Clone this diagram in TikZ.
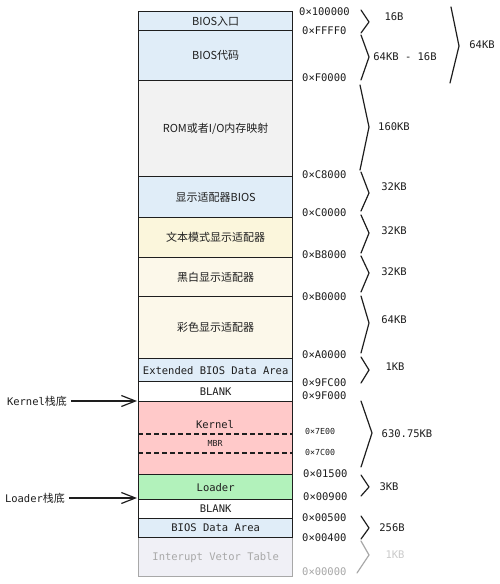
\documentclass[tikz,border=0pt]{standalone}
\usepackage{fontspec}
\setmonofont{DejaVu Sans Mono}
\newfontfamily\cjk{Noto Sans CJK SC}
\usetikzlibrary{arrows.meta}
\definecolor{ink}{HTML}{1E1E1E}
\definecolor{blueF}{HTML}{E0EDF8}
\definecolor{greyF}{HTML}{F2F2F2}
\definecolor{yelF}{HTML}{FBF6DC}
\definecolor{creamF}{HTML}{FCF8EA}
\definecolor{pinkF}{HTML}{FFC9C9}
\definecolor{greenF}{HTML}{B2F2BB}
\definecolor{ivtF}{HTML}{F0F0F6}
\definecolor{fadeT}{HTML}{A8A8A8}
\newcommand\monofnt{\fontsize{10.5bp}{12bp}\selectfont\ttfamily}
\newcommand\smallmono{\fontsize{8.3bp}{10bp}\selectfont\ttfamily}
\newcommand\cjkfnt{\fontsize{11bp}{13bp}\selectfont\cjk}
\begin{document}
\begin{tikzpicture}[x=1bp,y=-1bp,
  box/.style={draw=ink, line width=1.3bp, minimum width=154bp, inner sep=0pt,
    anchor=north west, font=\monofnt, text=ink},
  cbox/.style={box, font=\cjkfnt},
  addr/.style={anchor=west, inner sep=0pt, font=\monofnt, text=ink},
  saddr/.style={anchor=west, inner sep=0pt, font=\smallmono, text=ink},
  size/.style={inner sep=0pt, font=\monofnt, text=ink},
  brc/.style={draw=ink, line width=1.2bp, line join=round, line cap=round},
  lab/.style={inner sep=2bp, font=\monofnt, text=ink},
  arr/.style={draw=ink, line width=1.2bp, -{Straight Barb[length=14bp,width=11bp]}},
  dline/.style={draw=ink, line width=1.3bp, dash pattern=on 5bp off 3bp}
]
\useasboundingbox (0,0) rectangle (500,584);
\fill[white] (0,0) rectangle (500,584);

% memory column
\node[cbox, fill=blueF, minimum height=19bp] (entry) at (138,11) {BIOS入口};
\node[cbox, fill=blueF, minimum height=50bp] (code) at (138,30) {BIOS代码};
\node[cbox, fill=greyF, minimum height=96bp] (rom) at (138,80) {ROM或者I/O内存映射};
\node[cbox, fill=blueF, minimum height=41bp] (vbios) at (138,176) {显示适配器BIOS};
\node[cbox, fill=yelF, minimum height=40bp] (txt) at (138,217) {文本模式显示适配器};
\node[cbox, fill=creamF, minimum height=39bp] (mono) at (138,257) {黑白显示适配器};
\node[cbox, fill=creamF, minimum height=62bp] (color) at (138,296) {彩色显示适配器};
\node[box, fill=blueF, minimum height=23bp] (ebda) at (138,358) {Extended BIOS Data Area};
\node[box, fill=white, minimum height=20bp] (blank1) at (138,381) {BLANK};
\node[box, fill=pinkF, minimum height=73bp] (kernel) at (138,401) {};
\node[box, fill=greenF, minimum height=25bp] (loader) at (138,474) {Loader};
\node[box, fill=white, minimum height=19bp] (blank2) at (138,499) {BLANK};
\node[box, draw=fadeT, fill=ivtF, text=fadeT, minimum height=39bp] (ivt) at (138,537) {Interupt Vetor Table};
\node[box, fill=blueF, minimum height=19bp] (bda) at (138,518) {BIOS Data Area};

\draw[dline] (138,434) -- (292,434);
\draw[dline] (138,453) -- (292,453);
\node[size] (kname) at (215,425) {Kernel};
\node[size, font=\smallmono] (mbr) at (215,443) {MBR};

% addresses
\node[addr] (a0) at (299,12) {0×100000};
\node[addr] (a1) at (302,31) {0×FFFF0};
\node[addr] (a2) at (302,78) {0×F0000};
\node[addr] (a3) at (302,175) {0×C8000};
\node[addr] (a4) at (302,213) {0×C0000};
\node[addr] (a5) at (302,255) {0×B8000};
\node[addr] (a6) at (302,297) {0×B0000};
\node[addr] (a7) at (302,355) {0×A0000};
\node[addr] (a8) at (302,383) {0×9FC00};
\node[addr] (a9) at (302,396) {0×9F000};
\node[saddr] (a10) at (305,431) {0×7E00};
\node[saddr] (a11) at (305,452) {0×7C00};
\node[addr] (a12) at (303,474) {0×01500};
\node[addr] (a13) at (303,497) {0×00900};
\node[addr] (a14) at (302,518) {0×00500};
\node[addr] (a15) at (302,538) {0×00400};
\node[addr, text=fadeT] (a16) at (302,572) {0×00000};

% braces
\draw[brc] (361,10) -- (369,22) -- (361,33);
\draw[brc] (361,35) -- (369,57) -- (361,80);
\draw[brc] (451,7) -- (459,46) -- (450,83);
\draw[brc] (360,85) -- (369,127) -- (360,170);
\draw[brc] (361,172) -- (369,193) -- (361,211);
\draw[brc] (361,215) -- (369,233) -- (361,253);
\draw[brc] (361,256) -- (369,273) -- (361,292);
\draw[brc] (361,296) -- (369,323) -- (361,353);
\draw[brc] (361,357) -- (369,370) -- (361,383);
\draw[brc] (361,401) -- (372,433) -- (361,467);
\draw[brc] (361,475) -- (369,487) -- (361,496);
\draw[brc] (361,516) -- (369,528) -- (361,539);
\draw[brc, draw=fadeT] (361,541) -- (369,555) -- (357,573);

% sizes
\node[size] (s0) at (394,17) {16B};
\node[size] (s1) at (405,57) {64KB - 16B};
\node[size] (s2) at (482,45) {64KB};
\node[size] (s3) at (394,127) {160KB};
\node[size] (s4) at (394,187) {32KB};
\node[size] (s5) at (394,231) {32KB};
\node[size] (s6) at (394,272) {32KB};
\node[size] (s7) at (394,320) {64KB};
\node[size] (s8) at (395,367) {1KB};
\node[size] (s9) at (407,434) {630.75KB};
\node[size] (s10) at (389,487) {3KB};
\node[size] (s11) at (392,528) {256B};
\node[size, text=fadeT!60] (s12) at (395,555) {1KB};

% stack labels
\node[lab] (kstack) at (37,401) {Kernel{\cjkfnt 栈底}};
\coordinate (ktip) at (137,401);
\draw[arr] ([xshift=2bp]kstack.east) -- (ktip);
\node[lab] (lstack) at (35,498) {Loader{\cjkfnt 栈底}};
\coordinate (ltip) at (137,498);
\draw[arr] ([xshift=2bp]lstack.east) -- (ltip);
\end{tikzpicture}
\end{document}
